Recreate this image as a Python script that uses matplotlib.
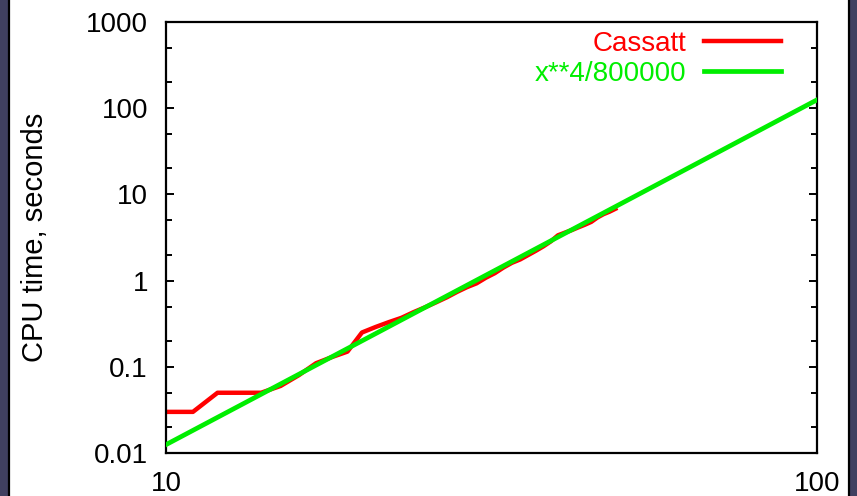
import numpy as np
import matplotlib
matplotlib.use("Agg")
import matplotlib.pyplot as plt
from matplotlib.patches import Rectangle
from matplotlib.lines import Line2D
from matplotlib.ticker import FixedLocator, FuncFormatter, NullLocator

plt.rcParams['font.family'] = ['Liberation Sans', 'DejaVu Sans']

# Cassatt CPU times
size = [10, 11, 12, 13, 14, 15, 16, 17, 18, 19,
        20, 21, 22, 23, 24, 25, 26, 27, 28, 29,
        30, 31, 32, 33, 34, 35, 36, 37, 38, 39,
        40, 41, 42, 43, 44, 45, 46, 47, 48, 49]
cpu_time = [0.03, 0.03, 0.05, 0.05, 0.05, 0.06, 0.08, 0.11, 0.13, 0.15,
            0.25, 0.29, 0.33, 0.37, 0.43, 0.49, 0.56, 0.64, 0.74, 0.84,
            0.93, 1.08, 1.22, 1.42, 1.61, 1.76, 1.98, 2.22, 2.50, 2.85,
            3.35, 3.60, 3.85, 4.15, 4.45, 4.80, 5.40, 5.90, 6.30, 6.80]

# reference curve x**4/800000 (straight on log-log, endpoints)
fit_x = [10, 100]
fit_y = [0.0125, 125.0]

y_ticks = [0.01, 0.1, 1, 10, 100, 1000]
x_ticks = [10, 100]

fig = plt.figure(figsize=(8.57, 4.96), dpi=100, facecolor="white")

# slide background strips and frame lines
bg = "#404060"
fig.patches.append(Rectangle((0, 0), 8 / 857, 1, transform=fig.transFigure,
                             facecolor=bg, edgecolor="none", zorder=0))
fig.patches.append(Rectangle((849 / 857, 0), 8 / 857, 1, transform=fig.transFigure,
                             facecolor=bg, edgecolor="none", zorder=0))
fig.lines.append(Line2D([8.5 / 857, 8.5 / 857], [0, 1], transform=fig.transFigure,
                        color="black", lw=1.6))
fig.lines.append(Line2D([848.5 / 857, 848.5 / 857], [0, 1], transform=fig.transFigure,
                        color="black", lw=1.6))

ax = fig.add_axes([166 / 857, 1 - 453 / 496, 651 / 857, 431 / 496])
ax.set_xscale("log")
ax.set_yscale("log")

ax.plot(size, cpu_time, color="#ff0000", lw=3.2, label="Cassatt",
        solid_joinstyle="round", zorder=2)
ax.plot(fit_x, fit_y, color="#00ee00", lw=3.4, label="x**4/800000", zorder=3)

ax.set_xlim(10, 100)
ax.set_ylim(0.01, 1000)

fmt = FuncFormatter(lambda v, p: "%g" % v)
ax.xaxis.set_major_locator(FixedLocator(x_ticks))
ax.xaxis.set_minor_locator(NullLocator())
ax.xaxis.set_major_formatter(fmt)
ax.yaxis.set_major_locator(FixedLocator(y_ticks))
minor = [m * d for d in [0.01, 0.1, 1, 10, 100] for m in (2, 5)]
ax.yaxis.set_minor_locator(FixedLocator(minor))
ax.yaxis.set_major_formatter(fmt)

ax.tick_params(axis="y", which="major", direction="in", length=6, width=1.4,
               right=True, labelsize=20, pad=13)
ax.tick_params(axis="y", which="minor", direction="in", length=4, width=1.4,
               right=True)
ax.tick_params(axis="x", which="major", direction="in", length=0,
               labelsize=20, pad=13)

for s in ax.spines.values():
    s.set_linewidth(1.6)

ax.set_ylabel("CPU time, seconds", fontsize=21)
ax.yaxis.set_label_coords(-0.179, 0.5)

ax.legend(loc="upper right", frameon=False, markerfirst=False,
          labelcolor="linecolor", fontsize=20, handlelength=2.75,
          handletextpad=0.64, labelspacing=0.15, borderaxespad=0.3,
          bbox_to_anchor=(0.974, 1.025))

fig.savefig("out.png", dpi=100, facecolor=fig.get_facecolor())
